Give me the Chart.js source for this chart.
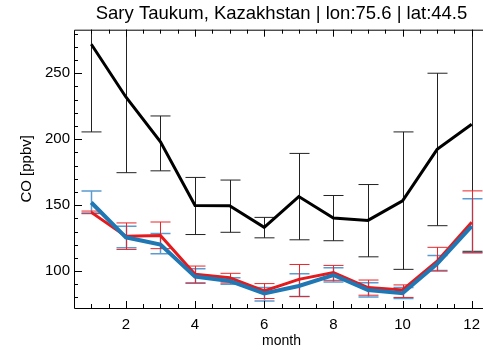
<!DOCTYPE html>
<html>
<head>
<meta charset="utf-8">
<script src="https://cdn.jsdelivr.net/npm/chart.js@4/dist/chart.umd.min.js"></script>
<style>
  html, body { margin: 0; padding: 0; background: #fff; }
  #wrap { width: 483px; height: 350px; overflow: hidden; }
  canvas { display: block; }
</style>
</head>
<body>
<div id="wrap"><canvas id="co-chart" width="490" height="350"></canvas></div>
<script>
const months = [1, 2, 3, 4, 5, 6, 7, 8, 9, 10, 11, 12];

// observed monthly mean with spread
const obsMean = [272, 232, 198, 149.7, 149.5, 133.2, 156.5, 140.2, 138.4, 153.3, 192.3, 211.3];
const obsLow  = [205.5, 174.6, 176, 127.7, 129.4, 125.2, 123.7, 123, 110.8, 101.3, 134.4, 115];
const obsHigh = [338, 289, 217.6, 171, 169, 140.7, 189.2, 157.3, 165.6, 205.5, 250, 307];

// model run 1 (blue)
const blueMean = [152, 125.6, 120.1, 95.8, 92.5, 83, 88.7, 97, 85.7, 83.2, 105.6, 134];
const blueLow  = [144, 117.6, 113.1, 90.7, 90, 77.4, 80.7, 91.7, 80.4, 79.2, 100.5, 113.9];
const blueHigh = [160.8, 134, 128.4, 101.8, 95, 87.5, 98, 102.6, 91.2, 87.5, 111.8, 154.8];

// model run 2 (red)
const redMean = [144.5, 126.4, 126.9, 97.5, 95, 85, 93.7, 98.8, 87.5, 85.7, 107.5, 137];
const redLow  = [143.5, 116.4, 117, 91, 91, 79.2, 80.7, 93, 81.7, 80, 100, 113.9];
const redHigh = [145.5, 136.5, 137.2, 103.8, 98.3, 90.5, 105, 104.3, 93.2, 89.5, 118, 160.8];

const xTickLabels = [2, 4, 6, 8, 10, 12];
const yTickLabels = [100, 150, 200, 250];

const FONT = "'Liberation Sans', Arial, sans-serif";

function toPoints(values) {
  return values.map((v, i) => ({ x: months[i], y: v }));
}

// error bars drawn under the lines, clipped to the plot box
const errorBars = {
  id: 'errorBars',
  beforeDatasetsDraw(chart) {
    const { ctx, chartArea, scales: { x, y } } = chart;
    const sets = [
      { low: obsLow, high: obsHigh, color: '#222', width: 1 },
      { low: blueLow, high: blueHigh, color: '#5b9bd0', width: 1.5 },
      { low: redLow, high: redHigh, color: '#e8262a', width: 1 }
    ];
    ctx.save();
    ctx.beginPath();
    ctx.rect(chartArea.left, chartArea.top, chartArea.right - chartArea.left, chartArea.bottom - chartArea.top);
    ctx.clip();
    sets.forEach(s => {
      ctx.strokeStyle = s.color;
      ctx.lineWidth = s.width;
      months.forEach((m, i) => {
        const px = Math.round(x.getPixelForValue(m)) + 0.5;
        const lo = y.getPixelForValue(s.low[i]);
        const hi = y.getPixelForValue(s.high[i]);
        ctx.beginPath();
        ctx.moveTo(px, lo);
        ctx.lineTo(px, hi);
        ctx.moveTo(px - 10, lo);
        ctx.lineTo(px + 10, lo);
        ctx.moveTo(px - 10, hi);
        ctx.lineTo(px + 10, hi);
        ctx.stroke();
      });
    });
    ctx.restore();
  }
};

// box with inward ticks on the left, bottom and top
const frame = {
  id: 'frame',
  afterDraw(chart) {
    const { ctx, chartArea: a, scales: { x, y } } = chart;
    ctx.save();
    ctx.strokeStyle = '#000';
    ctx.lineWidth = 1;
    ctx.beginPath();
    ctx.moveTo(a.left + 0.5, a.top + 0.5);
    ctx.lineTo(a.left + 0.5, a.bottom + 0.5);
    ctx.lineTo(a.right, a.bottom + 0.5);
    ctx.moveTo(a.left + 0.5, a.top + 0.5);
    ctx.lineTo(a.right, a.top + 0.5);
    for (let m = 1; m <= 12; m += 0.5) {
      const px = Math.round(x.getPixelForValue(m)) + 0.5;
      const len = m % 2 === 0 ? 7 : 4;
      ctx.moveTo(px, a.bottom);
      ctx.lineTo(px, a.bottom - len);
      ctx.moveTo(px, a.top);
      ctx.lineTo(px, a.top + len);
    }
    for (let v = 80; v <= 280; v += 10) {
      const py = Math.round(y.getPixelForValue(v)) + 0.5;
      const len = v % 50 === 0 ? 8 : 4;
      ctx.moveTo(a.left, py);
      ctx.lineTo(a.left + len, py);
    }
    ctx.stroke();
    ctx.restore();
  }
};

const line = (data, color, width) => ({
  data: toPoints(data),
  borderColor: color,
  borderWidth: width,
  pointRadius: 0,
  tension: 0,
  fill: false
});

new Chart(document.getElementById('co-chart'), {
  type: 'line',
  data: {
    datasets: [
      line(obsMean, '#000', 3),
      line(blueMean, '#1f77b4', 4),
      line(redMean, '#e41a1c', 3)
    ]
  },
  options: {
    responsive: false,
    animation: false,
    layout: { padding: { left: 18, right: 1, top: 0, bottom: 0 } },
    plugins: {
      legend: { display: false },
      tooltip: { enabled: false },
      title: {
        display: true,
        fullSize: false,
        text: 'Sary Taukum, Kazakhstan | lon:75.6 | lat:44.5',
        color: '#000',
        font: { family: FONT, size: 18.5, weight: 'normal' },
        padding: { top: 3, bottom: 4.5 }
      }
    },
    scales: {
      x: {
        type: 'linear',
        min: 0.5,
        max: 12.5,
        grid: { display: false, drawTicks: false },
        border: { display: false },
        afterBuildTicks: s => { s.ticks = xTickLabels.map(v => ({ value: v })); },
        afterFit: s => { s.height = 42; },
        ticks: {
          color: '#000',
          padding: 8,
          maxRotation: 0,
          font: { family: FONT, size: 15 }
        },
        title: {
          display: true,
          text: 'month',
          color: '#000',
          padding: 0,
          font: { family: FONT, size: 14 }
        }
      },
      y: {
        min: 72,
        max: 283,
        grid: { display: false, drawTicks: false },
        border: { display: false },
        afterBuildTicks: s => { s.ticks = yTickLabels.map(v => ({ value: v })); },
        afterFit: s => { s.width = 56; },
        ticks: {
          color: '#000',
          padding: 4,
          font: { family: FONT, size: 15 }
        },
        title: {
          display: true,
          text: 'CO [ppbv]',
          color: '#000',
          padding: 0,
          font: { family: FONT, size: 15 }
        }
      }
    }
  },
  plugins: [errorBars, frame]
});
</script>
</body>
</html>
